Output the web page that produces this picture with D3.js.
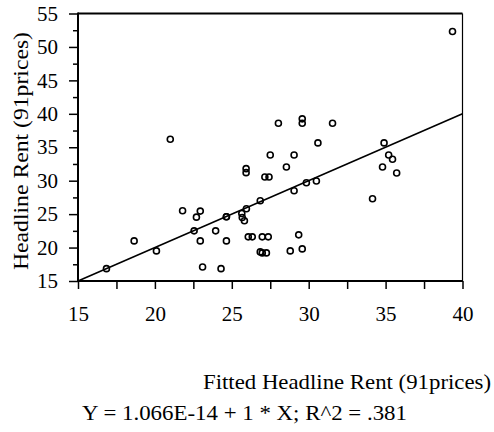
<!DOCTYPE html>
<html>
<head>
<meta charset="utf-8">
<script src="https://cdn.jsdelivr.net/npm/d3@7"></script>
<style>
  html, body { margin: 0; padding: 0; background: #fff; }
  svg { display: block; }
</style>
</head>
<body>
<svg id="chart" width="494" height="432"></svg>
<script>
// Fitted vs. observed headline rent (91 prices)
const fittedRent = [
  16.85, 18.65, 20.1, 21.0, 21.8, 22.55, 22.7, 22.95, 22.95, 23.1,
  23.95, 24.3, 24.65, 24.65, 24.65, 25.65, 25.68, 25.82, 25.93, 25.93,
  25.95, 26.07, 26.33, 26.85, 26.85, 26.98, 27.25, 26.98, 27.37, 27.15,
  27.42, 27.5, 28.03, 28.8, 29.35, 29.58, 28.55, 29.05, 29.05, 29.58,
  29.58, 29.85, 30.5, 30.6, 31.55, 34.15, 34.8, 34.9, 35.2, 35.45,
  35.72, 39.35
];
const headlineRent = [
  16.85, 21.0, 19.5, 36.2, 25.5, 22.5, 24.55, 25.45, 21.0, 17.1,
  22.5, 16.85, 24.6, 24.6, 21.0, 25.1, 24.5, 24.0, 31.8, 31.2,
  25.8, 21.6, 21.6, 27.0, 19.35, 19.2, 19.2, 21.6, 21.6, 30.55,
  30.55, 33.85, 38.6, 19.5, 21.9, 19.8, 32.05, 33.85, 28.5, 39.25,
  38.6, 29.7, 29.95, 35.65, 38.6, 27.3, 32.05, 35.65, 33.85, 33.2,
  31.15, 52.3
];
// Linear fit: Y = 1.066E-14 + 1 * X
const fitIntercept = 1.066e-14;
const fitSlope = 1;

const xMajorTicks = [15, 20, 25, 30, 35, 40];
const xMinorTicks = [17.5, 22.5, 27.5, 32.5, 37.5];
const yMajorTicks = [15, 20, 25, 30, 35, 40, 45, 50, 55];
const yMinorTicks = [17.5, 22.5, 27.5, 32.5, 37.5, 42.5, 47.5, 52.5];

const xTitle = "Fitted Headline Rent (91prices)";
const yTitle = "Headline Rent (91prices)";
const fitLabel = "Y = 1.066E-14 + 1 * X; R^2 = .381";

const serif = '"Liberation Serif", "Times New Roman", Times, serif';
const svg = d3.select("#chart");
const plotL = 78, plotR = 462.5, plotT = 13.5, plotB = 281;

const x = d3.scaleLinear().domain([15, 40]).range([plotL, plotR]);
const y = d3.scaleLinear().domain([15, 55]).range([plotB, plotT]);

// frame: top and right edges
svg.append("line").attr("x1", plotL).attr("x2", plotR).attr("y1", plotT).attr("y2", plotT)
  .attr("stroke", "#000").attr("stroke-width", 2);
svg.append("line").attr("x1", plotR).attr("x2", plotR).attr("y1", plotT).attr("y2", plotB)
  .attr("stroke", "#000").attr("stroke-width", 1.2);

// x axis
const xMinG = svg.append("g").attr("transform", `translate(0,${plotB})`)
  .call(d3.axisBottom(x).tickValues(xMinorTicks).tickSize(8).tickFormat(""));
xMinG.select(".domain").remove();
const xMajG = svg.append("g").attr("transform", `translate(0,${plotB})`)
  .call(d3.axisBottom(x).tickValues(xMajorTicks).tickSize(8).tickPadding(17).tickFormat(d3.format("d")));
xMajG.select(".domain").attr("stroke-width", 2).attr("d", `M${plotL - 1},0H${plotR + 0.5}`);

// y axis
const yMinG = svg.append("g").attr("transform", `translate(${plotL},0)`)
  .call(d3.axisLeft(y).tickValues(yMinorTicks).tickSize(5).tickFormat(""));
yMinG.select(".domain").remove();
const yMajG = svg.append("g").attr("transform", `translate(${plotL},0)`)
  .call(d3.axisLeft(y).tickValues(yMajorTicks).tickSize(9).tickPadding(11).tickFormat(d3.format("d")));
yMajG.select(".domain").attr("stroke-width", 2).attr("d", `M0,${plotT - 1}V${plotB + 1}`);

svg.selectAll(".tick line").attr("stroke", "#000").attr("stroke-width", 1.5);
svg.selectAll(".tick text")
  .style("font-family", serif).style("font-size", "21px").attr("fill", "#000");

// fitted line
const x0 = 15, x1 = 40;
svg.append("line")
  .attr("x1", x(x0)).attr("y1", y(fitIntercept + fitSlope * x0))
  .attr("x2", x(x1)).attr("y2", y(fitIntercept + fitSlope * x1))
  .attr("stroke", "#000").attr("stroke-width", 1.6);

// observations
svg.append("g").selectAll("circle")
  .data(fittedRent.map((v, i) => [v, headlineRent[i]]))
  .join("circle")
  .attr("cx", d => x(d[0])).attr("cy", d => y(d[1]))
  .attr("r", 3).attr("fill", "none").attr("stroke", "#000").attr("stroke-width", 1.6);

// titles
const titleStyle = t => t.style("font-family", serif).style("font-size", "21px").attr("fill", "#000");
svg.append("text").attr("x", 491).attr("y", 389).attr("text-anchor", "end")
  .attr("textLength", 288).attr("lengthAdjust", "spacingAndGlyphs")
  .text(xTitle).call(titleStyle);
svg.append("text").attr("x", 82).attr("y", 420).attr("text-anchor", "start")
  .attr("textLength", 325).attr("lengthAdjust", "spacingAndGlyphs")
  .text(fitLabel).call(titleStyle);
svg.append("text").attr("transform", `translate(27.5,151) rotate(-90)`)
  .attr("text-anchor", "middle")
  .attr("textLength", 238).attr("lengthAdjust", "spacingAndGlyphs")
  .text(yTitle).call(titleStyle);
</script>
</body>
</html>
